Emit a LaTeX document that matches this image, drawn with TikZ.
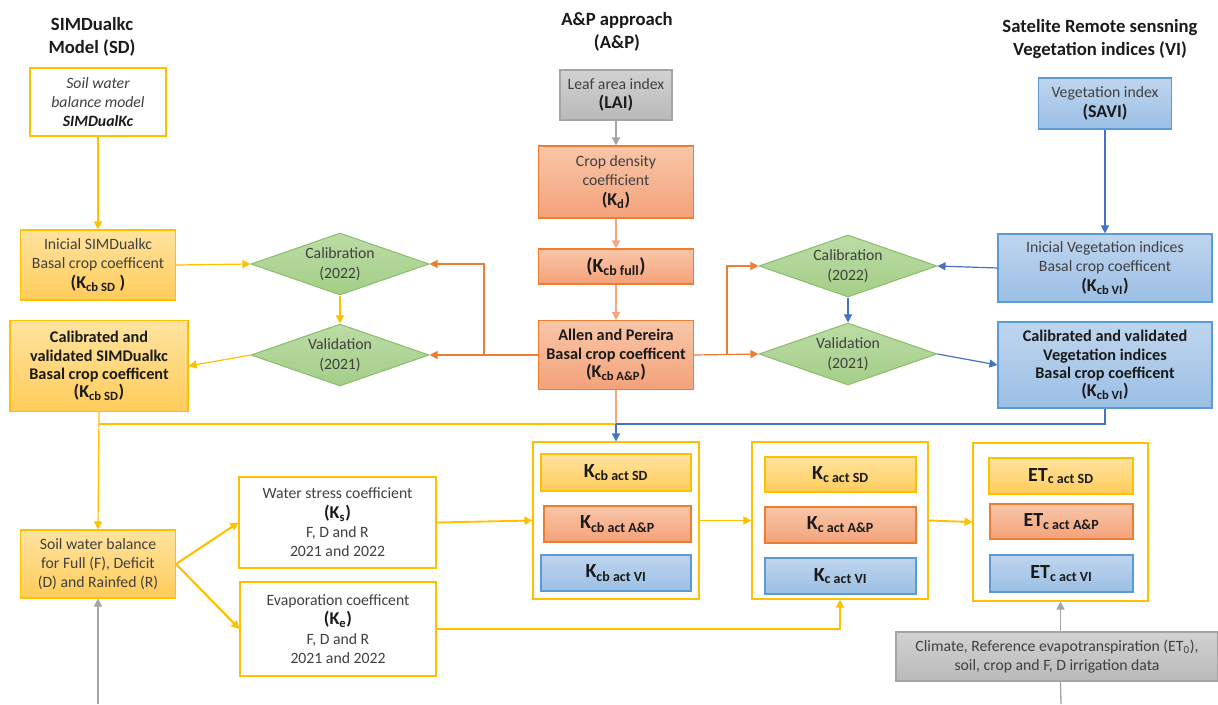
\documentclass[tikz,border=0pt]{standalone}
\usepackage{fontspec}
\setmainfont{Carlito}
\usepackage{tikz}
\usetikzlibrary{arrows.meta}
\usetikzlibrary{shapes.geometric}

\definecolor{txt}{HTML}{404040}
\definecolor{blk}{HTML}{1A1A1A}
\definecolor{ylw}{HTML}{FFC000}
\definecolor{ylwA}{HTML}{FFE3A0}
\definecolor{ylwB}{HTML}{FFCC5A}
\definecolor{orgD}{HTML}{ED7D31}
\definecolor{orgL}{HTML}{F4A57C}
\definecolor{orgA}{HTML}{F8C6A8}
\definecolor{orgB}{HTML}{F4A27A}
\definecolor{bluD}{HTML}{4472C4}
\definecolor{bluE}{HTML}{5B9BD5}
\definecolor{bluA}{HTML}{BFD5EE}
\definecolor{bluB}{HTML}{9BBFE5}
\definecolor{grnD}{HTML}{8CBF6C}
\definecolor{grnA}{HTML}{BCDCA6}
\definecolor{grnB}{HTML}{A4CE88}
\definecolor{gryD}{HTML}{A5A5A5}
\definecolor{gryA}{HTML}{D2D2D2}
\definecolor{gryB}{HTML}{B9B9B9}

\newcommand{\kfont}{\fontsize{13.5}{15}\selectfont\bfseries}

\begin{document}
\begin{tikzpicture}[x=0.75pt, y=-0.75pt, >={Triangle[length=6pt,width=6pt]},
    every node/.style={font=\fontsize{11.8}{14.5}\selectfont, text=txt, align=center, inner sep=1pt},
    sz/.style 2 args={minimum width=#1*0.75pt, minimum height=#2*0.75pt},
    ybox/.style={draw=ylw, line width=0.8pt, top color=ylwA, bottom color=ylwB},
    wbox/.style={draw=ylw, line width=0.8pt, fill=white},
    obox/.style={draw=orgD, line width=0.8pt, top color=orgA, bottom color=orgB},
    bbox/.style={draw=bluE, line width=0.8pt, top color=bluA, bottom color=bluB},
    gbox/.style={draw=gryD, line width=0.8pt, top color=gryA, bottom color=gryB},
    dmd/.style={diamond, draw=grnD, line width=0.8pt, top color=grnA, bottom color=grnB,
        inner sep=0pt, aspect=2.9, sz={178}{62}},
    hdr/.style={font=\fontsize{14}{17.5}\selectfont\bfseries, text=blk},
    bld/.style={font=\fontsize{12.2}{13.8}\selectfont\bfseries, text=blk},
    act/.style={font=\fontsize{15}{17}\selectfont\bfseries, text=blk},
    yarr/.style={draw=ylw, line width=0.9pt, ->},
    oarr/.style={draw=orgD, line width=0.9pt, ->},
    larr/.style={draw=orgL, line width=1pt, ->},
    barr/.style={draw=bluD, line width=0.9pt, ->},
    garr/.style={draw=gryD, line width=1pt, ->}]

    \useasboundingbox (0,0) rectangle (1218,704);

    % === Titoli delle colonne ===
    \node[hdr] (hdSD) at (92,37) {SIMDualkc\\Model (SD)};
    \node[hdr] (hdAP) at (617,32) {A\&P approach\\(A\&P)};
    \node[hdr] (hdVI) at (1100,39) {Satelite Remote sensning\\Vegetation indices (VI)};

    % === Colonna SIMDualkc ===
    \node[wbox, sz={136}{68}] (swbm) at (98,102) {\itshape Soil water\\\itshape balance model\\\itshape\bfseries\color{blk}SIMDualKc};
    \node[ybox, sz={155}{70}] (iniSD) at (98,265) {Inicial SIMDualkc\\Basal crop coefficent\\{\kfont\color{blk}(K\textsubscript{cb SD} )}};
    \node[ybox, sz={178}{91}, bld] (cvSD) at (99,366) {Calibrated and\\validated SIMDualkc\\Basal crop coefficent\\{\kfont (K\textsubscript{cb SD})}};
    \node[dmd] (calSD) at (340,264) {Calibration\\(2022)};
    \node[dmd] (valSD) at (340,355) {Validation\\(2021)};

    % === Colonna A&P ===
    \node[gbox, sz={112}{50}] (lai) at (616,95) {Leaf area index\\{\kfont\color{blk}(LAI)}};
    \node[obox, sz={155}{72}] (kd) at (616,182) {Crop density\\coefficient\\{\kfont\color{blk}(K\textsubscript{d})}};
    \node[obox, sz={155}{35}] (kcbfull) at (616,266.5) {\fontsize{15}{17}\selectfont\bfseries\color{blk}(K\textsubscript{cb full})};
    \node[obox, sz={155}{69}, bld] (allen) at (616,355) {Allen and Pereira\\Basal crop coefficent\\{\kfont (K\textsubscript{cb A\&P})}};

    % === Colonna VI ===
    \node[bbox, sz={133}{51}] (savi) at (1105,103.5) {Vegetation index\\{\kfont\color{blk}(SAVI)}};
    \node[bbox, sz={214}{68}] (iniVI) at (1105,268) {Inicial Vegetation indices\\Basal crop coefficent\\{\kfont\color{blk}(K\textsubscript{cb VI})}};
    \node[bbox, sz={214}{86}, bld] (cvVI) at (1105,365) {Calibrated and validated\\Vegetation indices\\Basal crop coefficent\\{\kfont (K\textsubscript{cb VI})}};
    \node[dmd] (calVI) at (848,266) {Calibration\\(2022)};
    \node[dmd] (valVI) at (848,354) {Validation\\(2021)};

    % === Bilancio idrico e coefficienti ===
    \node[ybox, sz={155}{68}] (swb) at (98,564) {Soil water balance\\for Full (F), Deficit\\(D) and Rainfed (R)};
    \node[wbox, sz={197}{91}] (ks) at (337.5,522.5) {Water stress coefficient\\{\kfont\color{blk}(K\textsubscript{s})}\\F, D and R\\2021 and 2022};
    \node[wbox, sz={196}{94}] (ke) at (338,629) {Evaporation coefficent\\{\kfont\color{blk}(K\textsubscript{e})}\\F, D and R\\2021 and 2022};

    % === Gruppi Kcb act, Kc act, ETc act ===
    \node[wbox, sz={166}{157}] (grpKcb) at (616,520.5) {};
    \node[ybox, sz={150}{37}, act] (kcbSD) at (616,472.5) {K\textsubscript{cb act SD}};
    \node[obox, sz={147}{36}, act] (kcbAP) at (617.5,524) {K\textsubscript{cb act A\&P}};
    \node[bbox, sz={150}{36}, act] (kcbVI) at (616,573) {K\textsubscript{cb act VI}};

    \node[wbox, sz={176}{157}] (grpKc) at (840,520.5) {};
    \node[ybox, sz={151}{35}, act] (kcSD) at (840.5,474.5) {K\textsubscript{c act SD}};
    \node[obox, sz={151}{36}, act] (kcAP) at (840.5,525) {K\textsubscript{c act A\&P}};
    \node[bbox, sz={151}{36}, act] (kcVI) at (840.5,576) {K\textsubscript{c act VI}};

    \node[wbox, sz={175}{158}] (grpET) at (1060.5,522) {};
    \node[ybox, sz={144}{36}, act] (etSD) at (1061,476) {ET\textsubscript{c act SD}};
    \node[obox, sz={143}{35}, act] (etAP) at (1061.5,521.5) {ET\textsubscript{c act A\&P}};
    \node[bbox, sz={143}{37}, act] (etVI) at (1061.5,573.5) {ET\textsubscript{c act VI}};

    \node[gbox, sz={322}{49}] (clim) at (1057,656.5) {Climate, Reference evapotranspiration (ET\textsubscript{0}),\\soil, crop and F, D irrigation data};

    % === Punti liberi ===
    \coordinate (jn) at (616,424);
    \coordinate (swbin) at (98,704);
    \coordinate (climin) at (1061,704);

    % === Connettori ===
    % SIMDualkc
    \draw[yarr] (swbm.south) -- (iniSD.north);
    \draw[yarr] (iniSD.east) -- (calSD.west);
    \draw[yarr] (calSD.south) -- (valSD.north);
    \draw[yarr] (valSD.west) -- (cvSD.east);
    \draw[yarr] (cvSD.south) -- (swb.north);
    \draw[draw=ylw, line width=0.9pt] (cvSD.south |- jn) -- (jn);

    % A&P
    \draw[garr] (lai.south) -- (kd.north);
    \draw[larr] (kd.south) -- (kcbfull.north);
    \draw[larr] (kcbfull.south) -- (allen.north);
    \draw[oarr] (allen.west) -- (valSD.east);
    \draw[oarr] (allen.west) ++(-54,0) |- (calSD.east);
    \draw[oarr] (allen.east) -- (valVI.west);
    \draw[oarr] (allen.east) ++(33,0) |- (calVI.west);
    \draw[draw=orgL, line width=1pt] (allen.south) -- (jn);

    % VI
    \draw[barr] (savi.south) -- (iniVI.north);
    \draw[barr] (iniVI.west) -- (calVI.east);
    \draw[barr] (calVI.south) -- (valVI.north);
    \draw[barr] (valVI.east) -- (cvVI.west);
    \draw[draw=bluD, line width=0.9pt] (cvVI.south) |- (jn);
    \draw[barr] (jn) -- (grpKcb.north);

    % Bilancio e gruppi
    \draw[garr] (swbin) -- (swb.south);
    \draw[yarr, line width=1.6pt] (swb.east) -- (ks.west);
    \draw[yarr, line width=1.6pt] (swb.east) -- (ke.west);
    \draw[yarr, line width=1.4pt] (ks.east) -- (grpKcb.west);
    \draw[yarr, line width=1.4pt] (grpKcb.east) -- (grpKc.west);
    \draw[yarr, line width=1.4pt] (grpKc.east) -- (grpET.west);
    \draw[yarr, line width=1.4pt] (ke.east) -| (grpKc.south);
    \draw[garr] (grpET.south |- clim.north) -- (grpET.south);
    \draw[draw=gryD, line width=1pt] (climin) -- (grpET.south |- clim.south);

\end{tikzpicture}
\end{document}
